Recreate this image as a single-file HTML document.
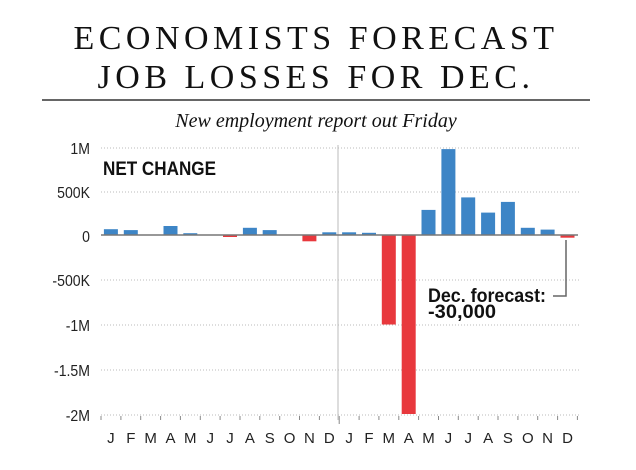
<!DOCTYPE html><html><head><meta charset="utf-8"><style>
body{margin:0;background:#fff;width:636px;height:465px;overflow:hidden}
</style></head><body>
<svg width="636" height="465" xmlns="http://www.w3.org/2000/svg">
<g font-family="Liberation Serif, serif" fill="#111" text-anchor="middle">
<text x="316" y="49" font-size="34" letter-spacing="4.5">ECONOMISTS FORECAST</text>
<text x="316" y="88" font-size="34" letter-spacing="4.5">JOB LOSSES FOR DEC.</text>
<text x="316" y="127" font-size="20" font-style="italic">New employment report out Friday</text>
</g>
<line x1="42" y1="100" x2="590" y2="100" stroke="#333" stroke-width="1.5"/>
<g stroke="#bbb" stroke-dasharray="1,2" stroke-width="1">
<line x1="101" y1="148" x2="580" y2="148"/><line x1="101" y1="192" x2="580" y2="192"/>
<line x1="101" y1="280" x2="580" y2="280"/><line x1="101" y1="325" x2="580" y2="325"/>
<line x1="101" y1="370" x2="580" y2="370"/><line x1="101" y1="415" x2="580" y2="415"/>
</g>
<line x1="338" y1="145" x2="338" y2="420" stroke="#bbb" stroke-width="1"/>
<g font-family="Liberation Sans, sans-serif" font-size="16" fill="#222" text-anchor="end" transform="translate(90,0) scale(0.88,1) translate(-90,0)">
<text x="90" y="154">1M</text><text x="90" y="198">500K</text><text x="90" y="242">0</text>
<text x="90" y="286">-500K</text><text x="90" y="331">-1M</text><text x="90" y="376">-1.5M</text><text x="90" y="421">-2M</text>
</g>
<text x="103" y="175" font-family="Liberation Sans, sans-serif" font-weight="bold" font-size="19" fill="#111" textLength="113" lengthAdjust="spacingAndGlyphs">NET CHANGE</text>
<g fill="#3d85c6">
<rect x="103.9" y="229.2" width="14" height="5.8"/>
<rect x="123.8" y="230.1" width="14" height="4.9"/>
<rect x="163.5" y="226" width="14" height="9"/>
<rect x="183.3" y="233.2" width="14" height="1.8"/>
<rect x="242.9" y="227.8" width="14" height="7.2"/>
<rect x="262.7" y="230.1" width="14" height="4.9"/>
<rect x="322.3" y="232.3" width="14" height="2.7"/>
<rect x="342.1" y="232.3" width="14" height="2.7"/>
<rect x="362.0" y="232.8" width="14" height="2.2"/>
<rect x="421.5" y="209.9" width="14" height="25.1"/>
<rect x="441.4" y="149.1" width="14" height="85.9"/>
<rect x="461.2" y="197.4" width="14" height="37.6"/>
<rect x="481.1" y="212.6" width="14" height="22.4"/>
<rect x="500.9" y="201.9" width="14" height="33.1"/>
<rect x="520.8" y="227.8" width="14" height="7.2"/>
<rect x="540.6" y="229.6" width="14" height="5.4"/>
</g>
<g fill="#e8383d">
<rect x="223.0" y="235" width="14" height="2"/>
<rect x="302.4" y="235" width="14" height="6.3"/>
<rect x="381.8" y="235" width="14" height="89.5"/>
<rect x="401.7" y="235" width="14" height="179"/>
<rect x="560.5" y="235" width="14" height="2.7"/>
</g>
<line x1="101" y1="235" x2="578" y2="235" stroke="#777" stroke-width="1.5"/>
<polyline points="566,240 566,296 553,296" fill="none" stroke="#666" stroke-width="1.5"/>
<g font-family="Liberation Sans, sans-serif" font-weight="bold" font-size="19" fill="#111">
<text x="428" y="302" textLength="118" lengthAdjust="spacingAndGlyphs">Dec. forecast:</text>
<text x="428" y="318" textLength="68" lengthAdjust="spacingAndGlyphs">-30,000</text></g>
<g stroke="#888" stroke-width="1">
<line x1="101" y1="416" x2="101" y2="420"/><line x1="120.9" y1="416" x2="120.9" y2="420"/><line x1="140.7" y1="416" x2="140.7" y2="420"/><line x1="160.6" y1="416" x2="160.6" y2="420"/><line x1="180.4" y1="416" x2="180.4" y2="420"/><line x1="200.3" y1="416" x2="200.3" y2="420"/><line x1="220.1" y1="416" x2="220.1" y2="420"/><line x1="240" y1="416" x2="240" y2="420"/><line x1="259.8" y1="416" x2="259.8" y2="420"/><line x1="279.7" y1="416" x2="279.7" y2="420"/><line x1="299.5" y1="416" x2="299.5" y2="420"/><line x1="319.4" y1="416" x2="319.4" y2="420"/><line x1="339.2" y1="416" x2="339.2" y2="424"/><line x1="359.1" y1="416" x2="359.1" y2="420"/><line x1="378.9" y1="416" x2="378.9" y2="420"/><line x1="398.8" y1="416" x2="398.8" y2="420"/><line x1="418.6" y1="416" x2="418.6" y2="420"/><line x1="438.5" y1="416" x2="438.5" y2="420"/><line x1="458.3" y1="416" x2="458.3" y2="420"/><line x1="478.2" y1="416" x2="478.2" y2="420"/><line x1="498" y1="416" x2="498" y2="420"/><line x1="517.9" y1="416" x2="517.9" y2="420"/><line x1="537.7" y1="416" x2="537.7" y2="420"/><line x1="557.6" y1="416" x2="557.6" y2="420"/><line x1="577.4" y1="416" x2="577.4" y2="420"/>
</g>
<g font-family="Liberation Sans, sans-serif" font-size="15" fill="#222" text-anchor="middle">
<text x="110.9" y="443">J</text><text x="130.8" y="443">F</text><text x="150.6" y="443">M</text><text x="170.5" y="443">A</text><text x="190.3" y="443">M</text><text x="210.2" y="443">J</text><text x="230" y="443">J</text><text x="249.9" y="443">A</text><text x="269.7" y="443">S</text><text x="289.6" y="443">O</text><text x="309.4" y="443">N</text><text x="329.3" y="443">D</text>
<text x="349.1" y="443">J</text><text x="369" y="443">F</text><text x="388.8" y="443">M</text><text x="408.7" y="443">A</text><text x="428.5" y="443">M</text><text x="448.4" y="443">J</text><text x="468.2" y="443">J</text><text x="488.1" y="443">A</text><text x="507.9" y="443">S</text><text x="527.8" y="443">O</text><text x="547.6" y="443">N</text><text x="567.5" y="443">D</text>
</g>
</svg></body></html>
